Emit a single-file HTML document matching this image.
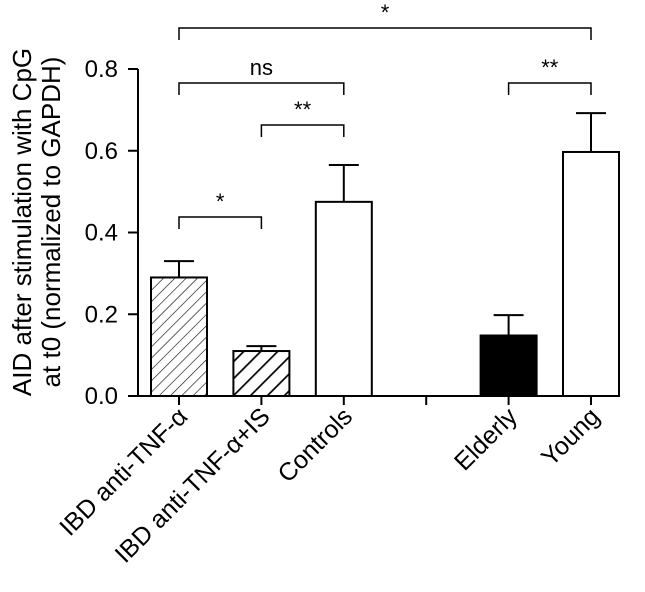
<!DOCTYPE html>
<html><head><meta charset="utf-8"><style>
body{margin:0;background:#fff;}
svg{display:block;font-family:"Liberation Sans",Arial,sans-serif;}
</style></head><body>
<svg id="c" width="645" height="592" xmlns="http://www.w3.org/2000/svg">
<defs>
<pattern id="h1" patternUnits="userSpaceOnUse" width="8" height="8" patternTransform="rotate(45)">
<line x1="0" y1="0" x2="0" y2="8" stroke="#000" stroke-width="1.2"/></pattern>
<pattern id="h2" patternUnits="userSpaceOnUse" width="12" height="12" patternTransform="rotate(45)">
<line x1="0" y1="0" x2="0" y2="12" stroke="#000" stroke-width="3.5"/></pattern>
</defs>
</svg>
<script>
const categories=["IBD anti-TNF-α","IBD anti-TNF-α+IS","Controls","Elderly","Young"];
const values=[0.29,0.11,0.475,0.148,0.597];
const errors=[0.04,0.012,0.09,0.05,0.095];
const yTicks=[0,0.2,0.4,0.6,0.8];
const fills=["url(#h1)","url(#h2)","#fff","#000","#fff"];
const slots=[0,1,2,4,5];
const svg=document.getElementById('c');
const NS="http://www.w3.org/2000/svg";
function el(t,a,p){const e=document.createElementNS(NS,t);for(const k in a)e.setAttribute(k,a[k]);(p||svg).appendChild(e);return e;}
const y0=396,yTop=69;
function y(v){return y0-(y0-yTop)*v/0.8;}
function xc(s){return 179+s*82.4;}
const bw=56;
let a=el('line',{x1:138,y1:y(0),x2:138,y2:y(0.8),stroke:'#000','stroke-width':2});

yTicks.forEach(t=>{
 el('line',{x1:128,y1:y(t),x2:138,y2:y(t),stroke:'#000','stroke-width':2});
 const tx=el('text',{x:118,y:y(t)+8,'text-anchor':'end','font-size':24});
 tx.textContent=t.toFixed(1);
 
});
let xa=el('line',{x1:137,y1:y0,x2:620,y2:y0,stroke:'#000','stroke-width':2});

[0,1,2,3,4,5].forEach(s=>el('line',{x1:xc(s),y1:y0,x2:xc(s),y2:y0+9,stroke:'#000','stroke-width':2}));
values.forEach((v,i)=>{
 const cx=xc(slots[i]);
 const e=errors[i];
 const el1=el('line',{x1:cx,y1:y(v),x2:cx,y2:y(v+e),stroke:'#000','stroke-width':2});
 
 el('line',{x1:cx-15,y1:y(v+e),x2:cx+15,y2:y(v+e),stroke:'#000','stroke-width':2});
 const r=el('rect',{x:cx-bw/2,y:y(v),width:bw,height:y0-y(v),fill:fills[i],stroke:'#000','stroke-width':2});
 
 
 const lx=cx+10,ly=y0+22;
 const t=el('text',{x:lx,y:ly,'text-anchor':'end','font-size':25,transform:`rotate(-45 ${lx} ${ly})`});
 t.textContent=categories[i];
 
});
function br(x1,x2,yy,lab){
 const g=el('g',{});
 
 el('path',{d:`M${x1} ${yy+12}V${yy}H${x2}V${yy+12}`,fill:'none',stroke:'#000','stroke-width':1.5},g);
 const t=el('text',{x:(x1+x2)/2,y:yy-8,'text-anchor':'middle','font-size':22},g);t.textContent=lab;
}
br(xc(0),xc(5),28,'*');
br(xc(0),xc(2),83,'ns');
br(xc(1),xc(2),125,'**');
br(xc(4),xc(5),83,'**');
br(xc(0),xc(1),217,'*');
const yl=el('text',{transform:'translate(31,222) rotate(-90)','text-anchor':'middle','font-size':26});

const s1=el('tspan',{x:0,dy:0},yl);s1.textContent='AID after stimulation with CpG';
const s2=el('tspan',{x:0,dy:29},yl);s2.textContent='at t0 (normalized to GAPDH)';
</script>
</body></html>
